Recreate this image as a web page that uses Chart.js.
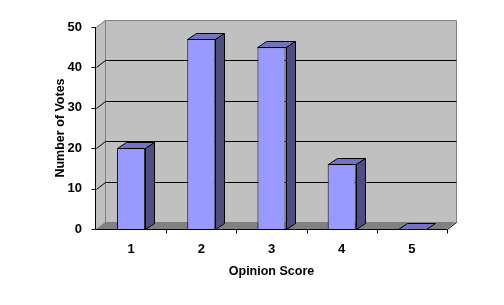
<!DOCTYPE html>
<html>
<head>
<meta charset="utf-8">
<script src="https://cdn.jsdelivr.net/npm/chart.js@4/dist/chart.umd.min.js"></script>
<style>
  html, body { margin: 0; padding: 0; background: #fff; }
</style>
</head>
<body>
<canvas id="votes-chart" width="504" height="305"></canvas>
<script>
const scores = ['1', '2', '3', '4', '5'];
const votes = [20, 47, 45, 16, 0];
const yTicks = [0, 10, 20, 30, 40, 50];

// depth of the 3d walls and bars
const DX = 9, DY = -7;
const BAR_DX = 9, BAR_DY = -6;

const threeD = {
    id: 'threeD',
    beforeDatasetsDraw(chart) {
        const ctx = chart.ctx;
        const x = chart.scales.x, y = chart.scales.y;
        const l = x.left, r = x.right;
        const y0 = y.getPixelForValue(0), yTop = y.getPixelForValue(50);
        ctx.save();
        ctx.lineWidth = 1;
        // back wall
        ctx.fillStyle = '#c0c0c0';
        ctx.fillRect(l + DX, yTop + DY, r - l, y0 - yTop);
        // left wall
        ctx.beginPath();
        ctx.moveTo(l, y0); ctx.lineTo(l, yTop);
        ctx.lineTo(l + DX, yTop + DY); ctx.lineTo(l + DX, y0 + DY);
        ctx.closePath(); ctx.fill();
        // floor
        ctx.fillStyle = '#808080';
        ctx.beginPath();
        ctx.moveTo(l, y0); ctx.lineTo(r, y0);
        ctx.lineTo(r + DX, y0 + DY); ctx.lineTo(l + DX, y0 + DY);
        ctx.closePath(); ctx.fill();
        // wall edges
        ctx.strokeStyle = '#808080';
        ctx.beginPath();
        ctx.moveTo(l + 0.5, yTop + 0.5); ctx.lineTo(l + DX + 0.5, yTop + DY + 0.5);
        ctx.lineTo(r + DX + 0.5, yTop + DY + 0.5); ctx.lineTo(r + DX + 0.5, y0 + DY + 0.5);
        ctx.moveTo(l + DX + 0.5, yTop + DY + 0.5); ctx.lineTo(l + DX + 0.5, y0 + DY + 0.5);
        ctx.stroke();
        // gridlines on back wall plus the short diagonals on the left wall
        ctx.strokeStyle = '#000';
        ctx.beginPath();
        yTicks.forEach(v => {
            if (v === 0 || v === 50) return;
            const py = Math.round(y.getPixelForValue(v)) + 0.5;
            ctx.moveTo(l + 0.5, py); ctx.lineTo(l + DX + 0.5, py + DY);
            ctx.lineTo(r + DX + 0.5, py + DY);
        });
        ctx.stroke();
        // axes
        const ay = Math.round(y0) + 0.5, ax = Math.round(l) - 0.5;
        ctx.beginPath();
        ctx.moveTo(ax, Math.round(yTop)); ctx.lineTo(ax, ay);
        ctx.lineTo(Math.round(r) + 0.5, ay);
        ctx.lineTo(Math.round(r) + DX + 0.5, ay + DY);
        yTicks.forEach(v => {
            const py = Math.round(y.getPixelForValue(v)) + 0.5;
            ctx.moveTo(ax - 4, py); ctx.lineTo(ax, py);
        });
        for (let i = 1; i <= scores.length; i++) {
            const px = Math.round(l + (r - l) * i / scores.length) + 0.5;
            ctx.moveTo(px, ay); ctx.lineTo(px, ay + 4);
        }
        ctx.stroke();
        ctx.restore();
    },
    afterDatasetsDraw(chart) {
        const ctx = chart.ctx;
        const meta = chart.getDatasetMeta(0);
        ctx.save();
        ctx.lineWidth = 1;
        ctx.strokeStyle = '#000';
        meta.data.forEach(bar => {
            const p = bar.getProps(['x', 'y', 'base', 'width'], true);
            const x1 = Math.round(p.x - p.width / 2) + 0.5;
            const x2 = Math.round(p.x + p.width / 2) + 0.5;
            const yt = Math.round(p.y) + 0.5;
            const yb = Math.round(p.base) + 0.5;
            // top face
            ctx.fillStyle = '#7373bf';
            ctx.beginPath();
            ctx.moveTo(x1, yt); ctx.lineTo(x1 + BAR_DX, yt + BAR_DY);
            ctx.lineTo(x2 + BAR_DX, yt + BAR_DY); ctx.lineTo(x2, yt);
            ctx.closePath(); ctx.fill(); ctx.stroke();
            // side face
            if (yb - yt > 1) {
                ctx.fillStyle = '#4d4d80';
                ctx.beginPath();
                ctx.moveTo(x2, yt); ctx.lineTo(x2 + BAR_DX, yt + BAR_DY);
                ctx.lineTo(x2 + BAR_DX, yb + BAR_DY); ctx.lineTo(x2, yb);
                ctx.closePath(); ctx.fill(); ctx.stroke();
            }
        });
        ctx.restore();
    }
};

const labelFont = { family: 'Liberation Sans, Arial, sans-serif', size: 13, weight: 'bold' };
const titleFont = { family: 'Liberation Sans, Arial, sans-serif', size: 12.5, weight: 'bold' };

new Chart(document.getElementById('votes-chart'), {
    type: 'bar',
    data: {
        labels: scores,
        datasets: [{
            data: votes,
            backgroundColor: '#9999ff',
            borderColor: '#000',
            borderWidth: 1,
            categoryPercentage: 1,
            barPercentage: 0.4
        }]
    },
    options: {
        responsive: false,
        animation: false,
        events: [],
        layout: { padding: { top: 27, right: 57, left: 0, bottom: 0 } },
        plugins: { legend: { display: false }, tooltip: { enabled: false } },
        scales: {
            x: {
                grid: { display: false },
                border: { display: false },
                ticks: { color: '#000', font: labelFont, padding: 5 },
                title: { display: true, text: 'Opinion Score', color: '#000', font: titleFont, padding: { top: 0, bottom: 26 } },
                afterFit(scale) { scale.height = 76; }
            },
            y: {
                min: 0,
                max: 50,
                grid: { display: false },
                border: { display: false },
                ticks: { color: '#000', font: labelFont, stepSize: 10, padding: 6 },
                title: { display: true, text: 'Number of Votes', color: '#000', font: titleFont, padding: { top: 53, bottom: 0 } },
                afterFit(scale) { scale.width = 96; }
            }
        }
    },
    plugins: [threeD]
});
</script>
</body>
</html>
